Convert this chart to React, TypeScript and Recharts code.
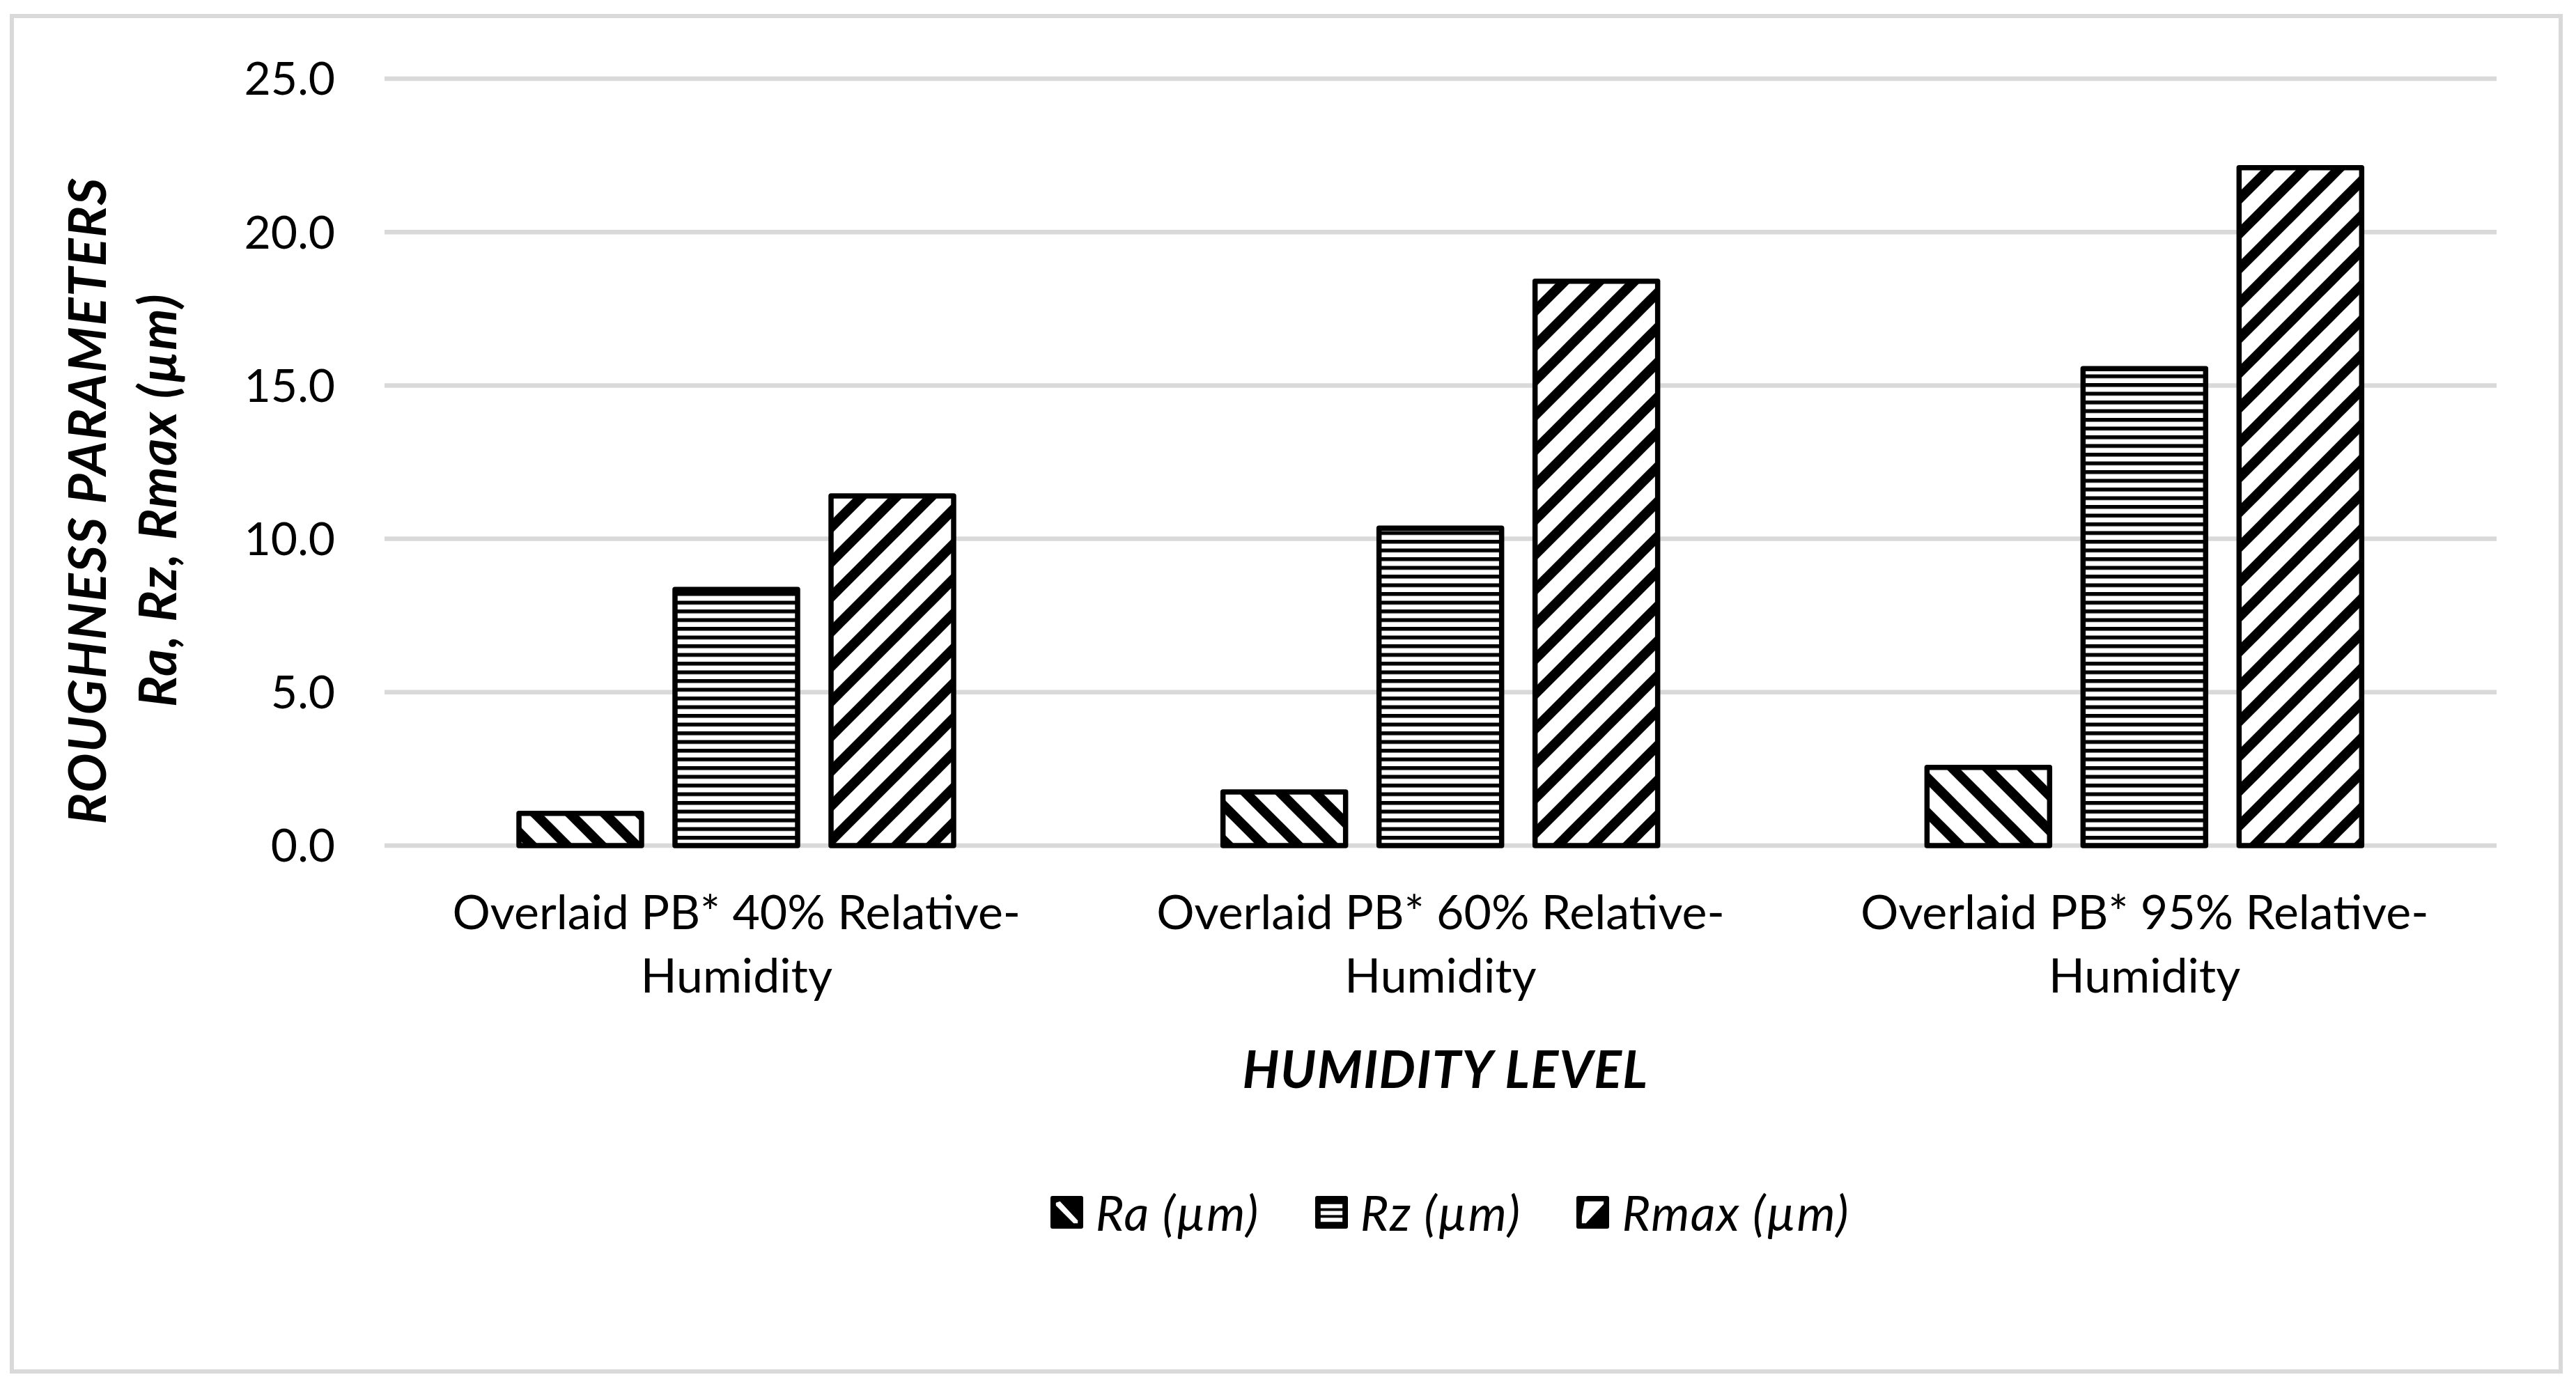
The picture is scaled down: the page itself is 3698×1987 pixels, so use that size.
import { Bar, BarChart, CartesianGrid, Legend, XAxis, YAxis } from "recharts";

const categories = [
  "Overlaid PB* 40% Relative-Humidity",
  "Overlaid PB* 60% Relative-Humidity",
  "Overlaid PB* 95% Relative-Humidity"
];
const raValues = [1.05, 1.75, 2.55];
const rzValues = [8.35, 10.35, 15.55];
const rmaxValues = [11.4, 18.4, 22.1];
const yTicks = [0, 5, 10, 15, 20, 25];

const seriesInfo = [
  { key: "ra", name: "Ra (\u00b5m)", pattern: "raHatch" },
  { key: "rz", name: "Rz (\u00b5m)", pattern: "rzHatch" },
  { key: "rmax", name: "Rmax (\u00b5m)", pattern: "rmaxHatch" }
];

const chartData = categories.map((label, i) => ({
  label,
  ra: raValues[i],
  rz: rzValues[i],
  rmax: rmaxValues[i]
}));

const FONT = "Lato, 'Open Sans', sans-serif";
const Y_TITLE = ["ROUGHNESS PARAMETERS", "Ra, Rz, Rmax (\u00b5m)"];

function CategoryTick({ x, y, payload }: any) {
  const text = String(payload.value);
  const cut = text.indexOf("-") + 1;
  return (
    <text x={x} y={y} textAnchor="middle" fontFamily={FONT} fontSize={68} fill="#000">
      <tspan x={x} dy={120}>{text.slice(0, cut)}</tspan>
      <tspan x={x} dy={91}>{text.slice(cut)}</tspan>
    </text>
  );
}

const xTitle = () => (
  <text
    x={2075}
    y={1562}
    textAnchor="middle"
    fontFamily={FONT}
    fontSize={74}
    fontWeight={700}
    fontStyle="italic"
    letterSpacing={1.5}
    fill="#000"
  >
    HUMIDITY LEVEL
  </text>
);

const yTitle = () => (
  <g fontFamily={FONT} fontSize={75} fontWeight={700} fontStyle="italic" letterSpacing={1.5} fill="#000">
    <text x={152} y={719} textAnchor="middle" transform="rotate(-90 152 719)">{Y_TITLE[0]}</text>
    <text x={253} y={718} textAnchor="middle" transform="rotate(-90 253 718)">{Y_TITLE[1]}</text>
  </g>
);

function LegendIcon({ kind }: { kind: string }) {
  return (
    <svg width={47} height={47} viewBox="0 0 48 48" style={{ display: "block" }}>
      <rect x={0} y={0} width={48} height={48} rx={3} fill="#000" />
      {kind === "ra" && <path d="M8,10 L14,8 L40,36 L40,40 L34,40 L8,14 Z" fill="#fff" />}
      {kind === "rz" && (
        <g fill="#fff">
          <rect x={8} y={12} width={32} height={6} />
          <rect x={8} y={22} width={32} height={6} />
          <rect x={8} y={32} width={32} height={6} />
        </g>
      )}
      {kind === "rmax" && <path d="M12,8 L40,8 L40,12 L14,40 L8,40 L8,30 Z" fill="#fff" />}
    </svg>
  );
}

function LegendRow() {
  return (
    <div style={{ display: "flex", justifyContent: "center", alignItems: "center", height: 80, gap: 80 }}>
      {seriesInfo.map((s) => (
        <div key={s.key} style={{ display: "flex", alignItems: "center", gap: 18 }}>
          <LegendIcon kind={s.key} />
          <span
            style={{
              fontFamily: FONT,
              fontSize: 70,
              fontStyle: "italic",
              letterSpacing: 1.5,
              color: "#000",
              lineHeight: "80px"
            }}
          >
            {s.name}
          </span>
        </div>
      ))}
    </div>
  );
}

export default function App() {
  return (
    <div style={{ position: "relative", width: 3698, height: 1987, background: "#fff" }}>
      <style>{"body{margin:0}"}</style>
      <div
        style={{
          position: "absolute",
          left: 14,
          top: 20,
          width: 3653,
          height: 1940,
          border: "6px solid #d9d9d9"
        }}
      />
      <div style={{ position: "absolute", left: 0, top: 0 }}>
        <BarChart
          width={3698}
          height={1987}
          data={chartData}
          margin={{ top: 113, right: 114, left: 0, bottom: 373 }}
          barSize={176}
          barGap={48}
        >
          <defs>
            <pattern id="raHatch" patternUnits="userSpaceOnUse" width={50} height={50}>
              <rect width={50} height={50} fill="#fff" />
              <g stroke="#000" strokeWidth={14}>
                <path d="M-12.5,-12.5 L62.5,62.5" />
                <path d="M-12.5,37.5 L12.5,62.5" />
                <path d="M37.5,-12.5 L62.5,12.5" />
              </g>
            </pattern>
            <pattern id="rzHatch" patternUnits="userSpaceOnUse" width={12.5} height={12.5}>
              <rect width={12.5} height={12.5} fill="#fff" />
              <rect width={12.5} height={5.5} fill="#000" />
            </pattern>
            <pattern id="rmaxHatch" patternUnits="userSpaceOnUse" width={50} height={50}>
              <rect width={50} height={50} fill="#fff" />
              <g stroke="#000" strokeWidth={14}>
                <path d="M-12.5,62.5 L62.5,-12.5" />
                <path d="M-12.5,12.5 L12.5,-12.5" />
                <path d="M37.5,62.5 L62.5,37.5" />
              </g>
            </pattern>
          </defs>
          <CartesianGrid vertical={false} stroke="#d9d9d9" strokeWidth={6.5} />
          <XAxis
            dataKey="label"
            height={400}
            axisLine={false}
            tickLine={false}
            tickSize={0}
            tickMargin={0}
            interval={0}
            tick={<CategoryTick />}
            label={xTitle}
          />
          <YAxis
            width={552}
            domain={[0, 25]}
            ticks={yTicks}
            interval={0}
            axisLine={false}
            tickLine={false}
            tickSize={0}
            tickMargin={71}
            tickFormatter={(v: number) => v.toFixed(1)}
            tick={{ fontFamily: FONT, fontSize: 66, fill: "#000" }}
            label={yTitle}
          />
          <Legend
            layout="vertical"
            verticalAlign="middle"
            align="center"
            wrapperStyle={{ top: 1700, left: 565, width: 3033, height: 80 }}
            content={() => <LegendRow />}
          />
          {seriesInfo.map((s) => (
            <Bar
              key={s.key}
              dataKey={s.key}
              name={s.name}
              fill={`url(#${s.pattern})`}
              stroke="#000"
              strokeWidth={7.5}
              strokeLinejoin="round"
              isAnimationActive={false}
            />
          ))}
        </BarChart>
      </div>
    </div>
  );
}
